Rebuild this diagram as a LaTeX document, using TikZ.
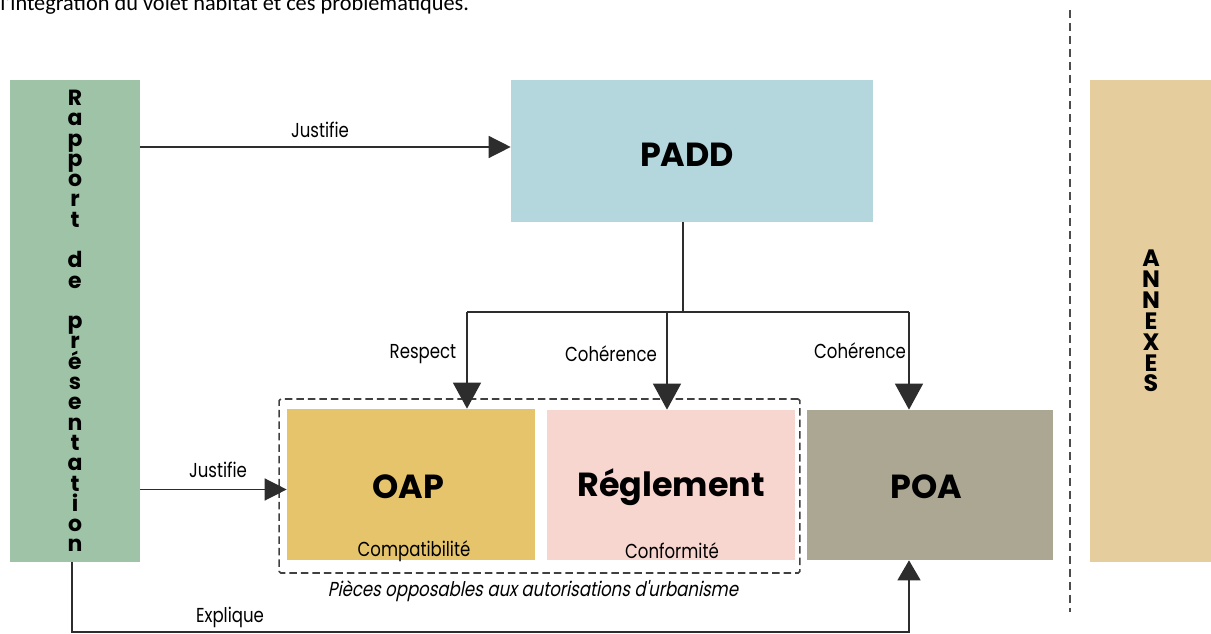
\documentclass[tikz,border=0pt]{standalone}
\usepackage{fontspec}
\setmainfont{Poppins}
\newfontfamily\lblfont[FakeStretch=0.82]{Poppins}
\newfontfamily\slfont[FakeStretch=0.82, FakeSlant=0.2]{Poppins}
\newfontfamily\docfont{Carlito}
\definecolor{rapgreen}{RGB}{158, 195, 166}
\definecolor{paddblue}{RGB}{180, 215, 222}
\definecolor{oapyellow}{RGB}{229, 196, 108}
\definecolor{reglpink}{RGB}{248, 214, 208}
\definecolor{poagray}{RGB}{172, 167, 147}
\definecolor{annexsand}{RGB}{230, 205, 157}
\definecolor{linegray}{RGB}{45, 45, 45}
\usetikzlibrary{arrows.meta, calc}

\tikzset{
  piece/.style={inner sep=0pt, font=\bfseries\fontsize{19}{22}\selectfont},
  lbl/.style={font=\lblfont\fontsize{11.5}{13}\selectfont, inner sep=0pt},
  conn/.style={draw=linegray, line width=0.8pt},
  arrow/.style={conn, -{Triangle[length=0.44cm, width=0.44cm]}},
  downarrow/.style={conn, -{Triangle[length=0.52cm, width=0.56cm]}}
}

\begin{document}
\begin{tikzpicture}[x=0.02cm, y=-0.02cm]
  \useasboundingbox (0, 0) rectangle (1211, 634);
  \clip (0, 0) rectangle (1211, 634);

  % Line of text above the figure
  \node[anchor=base west, inner sep=0pt, font=\docfont\fontsize{12.7}{14}\selectfont] (intro) at (0, 11)
    {l'intégration du volet habitat et ces problématiques.};

  % Rapport de presentation
  \node[fill=rapgreen, minimum width=2.6cm, minimum height=9.64cm, inner sep=0pt, align=center,
        font=\bfseries\fontsize{12.5}{11.55}\selectfont] (rapport) at (75, 321)
    {R\\a\\p\\p\\o\\r\\t\\[11.55pt]d\\e\\[11.55pt]p\\r\\é\\s\\e\\n\\t\\a\\t\\i\\o\\n};

  % PADD
  \node[piece, fill=paddblue, minimum width=7.24cm, minimum height=2.84cm] (padd) at (692, 151) {};
  \node[piece] (paddtxt) at (687, 155) {PADD};

  % Pieces opposables
  \node[draw=black!75, dash pattern=on 0.15cm off 0.08cm, line width=0.9pt, rounded corners=1pt,
        minimum width=10.42cm, minimum height=3.48cm] (pieces) at (539.5, 486) {};
  \node[piece, fill=oapyellow, minimum width=4.96cm, minimum height=3.02cm] (oap) at (411, 484.5) {};
  \node[piece] (oaptxt) at (408, 487) {OAP};
  \node[lbl] (compat) at (414, 551) {Compatibilité};
  \node[piece, fill=reglpink, minimum width=4.96cm, minimum height=3.0cm] (regl) at (671, 485) {};
  \node[piece] (regltxt) at (671, 487) {Réglement};
  \node[lbl] (conform) at (672, 551) {Conformité};
  \node[font=\slfont\fontsize{11.5}{13}\selectfont, inner sep=0pt] (piecestxt) at (533, 591)
    {Pièces opposables aux autorisations d'urbanisme};

  % POA
  \node[piece, fill=poagray, minimum width=4.92cm, minimum height=3.0cm] (poa) at (930, 485) {};
  \node[piece] (poatxt) at (926, 487) {POA};

  % Annexes
  \draw[linegray!85, line width=1.1pt, dash pattern=on 0.16cm off 0.1cm] (1070, 10) coordinate (septop) -- (1070, 612) coordinate (sepbot);
  \node[fill=annexsand, minimum width=2.44cm, minimum height=9.64cm, inner sep=0pt, align=center,
        font=\bfseries\fontsize{13.5}{11.9}\selectfont] (annexes) at (1151, 321)
    {A\\N\\N\\E\\X\\E\\S};

  % Justifie
  \coordinate (j1) at ($(padd.west)+(0, -4)$);
  \coordinate (j2) at ($(oap.west)+(0, 5)$);
  \draw[arrow] (j1 -| rapport.east) -- (j1);
  \node[lbl] (just1) at (320, 130) {Justifie};
  \draw[arrow] (j2 -| rapport.east) -- (j2);
  \node[lbl] (just2) at (218, 470) {Justifie};

  % PADD vers les pieces
  \coordinate (fork) at (683, 312);
  \coordinate (f1) at (467, 312);
  \coordinate (f2) at (667, 312);
  \coordinate (f3) at (909, 312);
  \draw[conn] (padd.south -| fork) -- (fork);
  \draw[conn] (f1) -- (f3);
  \draw[downarrow] (f1) -- (f1 |- oap.north);
  \draw[downarrow] (f2) -- (f2 |- regl.north);
  \draw[downarrow] (f3) -- (f3 |- poa.north);
  \node[lbl] (resp) at (423, 354) {Respect};
  \node[lbl] (coh1) at (611, 354) {Cohérence};
  \node[lbl] (coh2) at (860, 351) {Cohérence};

  % Explique
  \coordinate (ex1) at (72, 632);
  \coordinate (ex2) at (909, 632);
  \draw[conn, -{Triangle[length=0.4cm, width=0.46cm]}] (ex1 |- rapport.south) -- (ex1) -- (ex2) -- (ex2 |- poa.south);
  \node[lbl] (expl) at (230, 617) {Explique};
\end{tikzpicture}
\end{document}
